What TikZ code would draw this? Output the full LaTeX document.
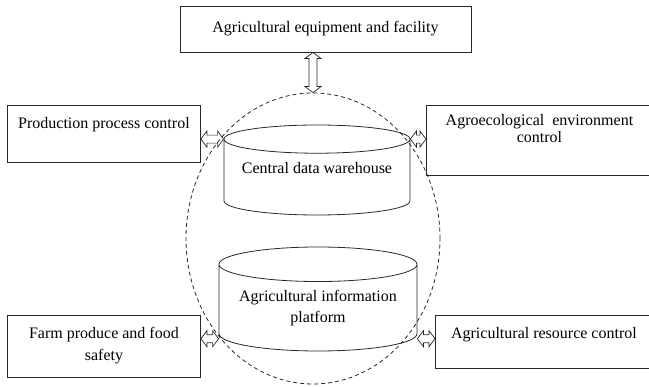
\documentclass[tikz,border=0pt]{standalone}
\usepackage{fontspec}
\setmainfont{Liberation Serif}
\usepackage{tikz}
\usetikzlibrary{shapes.geometric, arrows.meta, positioning, calc}
\definecolor{boxline}{RGB}{40, 40, 40}
\tikzset{
    ctrlbox/.style={draw=boxline, rectangle, line width=0.9pt, inner xsep=4pt, inner ysep=0pt, align=center, font=\fontsize{16}{17}\selectfont},
    storebox/.style={draw=boxline, cylinder, shape border rotate=90, anchor=shape center, line width=0.8pt, align=center, font=\fontsize{16}{21}\selectfont},
    linkarrow/.style={draw=boxline, line width=0.7pt, to path={let \p1=($(\tikztotarget)-(\tikztostart)$), \n1={atan2(\y1,\x1)}, \n2={veclen(\x1,\y1)} in
        {[shift={(\tikztostart)}, rotate=\n1] (0,0) -- (6,8) -- (6,4) -- (\n2-6,4) -- (\n2-6,8) -- (\n2,0) -- (\n2-6,-8) -- (\n2-6,-4) -- (6,-4) -- (6,-8) -- cycle}}},
    zone/.style={draw=boxline, ellipse, dash pattern=on 4pt off 3pt, line width=0.8pt},
}
\begin{document}
\begin{tikzpicture}[x=1pt, y=-1pt]
\useasboundingbox (0,0) rectangle (649,387);
% dashed platform zone
\node[zone, minimum width=254, minimum height=291] (zone) at (313,238.5) {};
% control boxes
\node[ctrlbox, minimum width=291, minimum height=46] (equip) at (325.5,29) {Agricultural equipment and facility};
\node[ctrlbox, anchor=north west, minimum width=193, text height=23, text depth=34] (prod) at (7,105) {Production process control};
\node[ctrlbox, anchor=north west, minimum width=226, text height=37, text depth=33] (agro) at (426,105) {Agroecological\hspace{4pt} environment\\control};
\node[ctrlbox, anchor=north west, minimum width=193, text height=45, text depth=17, font=\fontsize{16}{22}\selectfont] (farm) at (7,315) {Farm produce and food\\safety};
\node[ctrlbox, anchor=north west, minimum width=217, text height=23, text depth=30] (res) at (435,315) {Agricultural resource control};
% data stores
\node[storebox, aspect=0.18, minimum width=186, minimum height=90, text depth=22] (dw) at (317,170) {Central data warehouse};
\node[storebox, aspect=0.21, minimum width=198, minimum height=104, text depth=8] (ip) at (318,299) {Agricultural information\\platform};
\coordinate (ipL) at ([yshift=-5pt]ip.after bottom);
\coordinate (ipR) at ([yshift=-5pt]ip.before bottom);
% links
\draw[linkarrow] (zone.north |- equip.south) to (zone.north);
\draw[linkarrow] (prod.east |- dw.before top) to (dw.before top);
\draw[linkarrow] (dw.after top) to (agro.west |- dw.after top);
\draw[linkarrow] (farm.east |- ipL) to (ipL);
\draw[linkarrow] (ipR) to (res.west |- ipR);
\end{tikzpicture}
\end{document}
